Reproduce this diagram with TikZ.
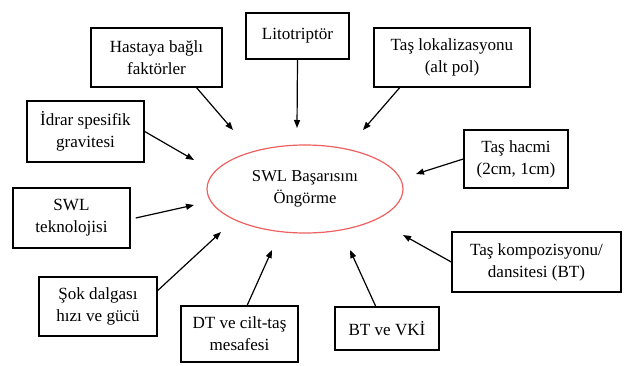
\documentclass[tikz,border=0pt]{standalone}
\usepackage{fontspec}
\setmainfont{Liberation Serif}
\usetikzlibrary{shapes.geometric,arrows.meta}

\tikzset{
  kutu/.style={draw, line width=1.1pt, inner sep=0.75pt, align=center, font=\fontsize{12.8}{16.5}\selectfont},
  ok/.style={-{Triangle[length=6pt,width=4.5pt]}, line width=0.9pt}
}

\begin{document}
\begin{tikzpicture}[x=0.75pt,y=0.75pt,yscale=-1,xscale=1]
%set diagram left start at 0, and has height of 365
\useasboundingbox (0,0) rectangle (626,365);

%Shape: Ellipse
\node [ellipse, draw={rgb, 255:red, 238; green, 96; blue, 96 }, line width=0.9pt, minimum width=147pt, minimum height=66pt, inner sep=0pt, align=center, font=\fontsize{12.5}{16.5}\selectfont] (swl) at (305,189) {SWL Başarısını\\Öngörme};

% Text Node
\node [kutu, minimum width=98.25pt, minimum height=44.25pt] (hasta) at (156.5,57.5) {Hastaya bağlı\\faktörler};
% Text Node
\node [kutu, minimum width=77.25pt, minimum height=34.5pt] (lito) at (297.5,36) {Litotriptör};
% Text Node
\node [kutu, minimum width=117pt, minimum height=44.25pt] (taslok) at (452,57.5) {Taş lokalizasyonu\\(alt pol)};
% Text Node
\node [kutu, minimum width=87.75pt, minimum height=45.75pt] (idrar) at (85.5,131.5) {İdrar spesifik\\gravitesi};
% Text Node
\node [kutu, minimum width=78pt, minimum height=43.5pt] (hacim) at (516,159) {Taş hacmi\\(2cm, 1cm)};
% Text Node
\node [kutu, minimum width=87.75pt, minimum height=45pt] (swltek) at (71.5,218) {SWL\\teknolojisi};
% Text Node
\node [kutu, minimum width=88.5pt, minimum height=44.25pt] (sok) at (98,306.5) {Şok dalgası\\hızı ve gücü};
% Text Node
\node [kutu, minimum width=87.75pt, minimum height=42pt] (dtcilt) at (239.5,334) {DT ve cilt-taş\\mesafesi};
% Text Node
\node [kutu, minimum width=78pt, minimum height=32.25pt] (btvki) at (387,328.5) {BT ve VKİ};
% Text Node
\node [kutu, minimum width=126.75pt, minimum height=45pt] (taskomp) at (536.5,262) {Taş kompozisyonu/\\dansitesi (BT)};

%Arrow ends
\coordinate (u1) at (233,130);
\coordinate (u2) at (297,128);
\coordinate (u3) at (363,130);
\coordinate (u4) at (194,160);
\coordinate (u5) at (416,174);
\coordinate (u6) at (194,205);
\coordinate (u7) at (221,232);
\coordinate (u8) at (272,250);
\coordinate (u9) at (350,250);
\coordinate (u10) at (403,235);

%Straight Lines
\draw [ok] (hasta.-37.5) -- (u1);
\draw [ok] (lito.south) -- (u2);
\draw [ok] (taslok.-150) -- (u3);
\draw [ok] (idrar.east) -- (u4);
\draw [ok] (hacim.west) -- (u5);
\draw [ok] ([xshift=3.75pt]swltek.east) -- (u6);
\draw [ok] (sok.15.6) -- (u7);
\draw [ok] (dtcilt.75) -- (u8);
\draw [ok] (btvki.117) -- (u9);
\draw [ok] (taskomp.west) -- (u10);

\end{tikzpicture}
\end{document}
